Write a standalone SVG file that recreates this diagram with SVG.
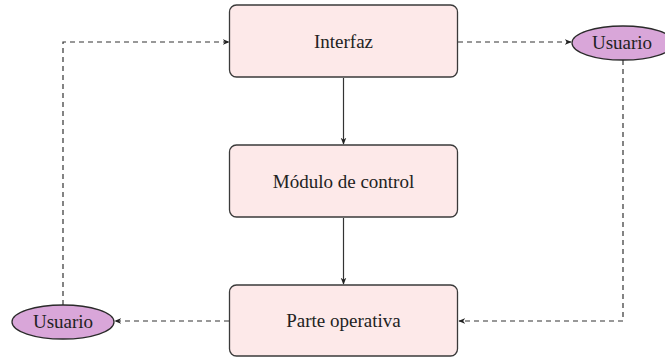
<svg xmlns="http://www.w3.org/2000/svg" width="665" height="358" viewBox="0 0 665 358">
<style>
.box{fill:#fde9e9;stroke:#3a3a3a;stroke-width:1.3}
.ell{fill:#d9a6d9;stroke:#2a2a2a;stroke-width:1.3}
.t{font-family:"Liberation Serif","Times New Roman",serif;font-size:19px;fill:#222;text-anchor:middle}
.solid{fill:none;stroke:#333;stroke-width:1.2}
.dash{fill:none;stroke:#333;stroke-width:1.2;stroke-dasharray:5 4}
</style>
<defs>
<marker id="ah" viewBox="0 0 10 10" refX="9" refY="5" markerWidth="7" markerHeight="7" markerUnits="userSpaceOnUse" orient="auto">
<path d="M0,1 L10,5 L0,9 L3,5 Z" fill="#222"/>
</marker>
</defs>
<g id="connectors">
<path class="solid" d="M343.5,78 V144" marker-end="url(#ah)"/>
<path class="solid" d="M343.5,218 V284" marker-end="url(#ah)"/>
<path class="dash" d="M458,42 H571" marker-end="url(#ah)"/>
<path class="dash" d="M623,60 V321 H459" marker-end="url(#ah)"/>
<path class="dash" d="M229,321 H115" marker-end="url(#ah)"/>
<path class="dash" d="M63,305 V42 H229" marker-end="url(#ah)"/>
</g>
<g id="interfaz">
<rect class="box" x="229.5" y="5" width="228" height="72" rx="7"/>
<text class="t" x="343.5" y="48">Interfaz</text>
</g>
<g id="modulo">
<rect class="box" x="229.5" y="145" width="228" height="72" rx="7"/>
<text class="t" x="343.5" y="188">Módulo de control</text>
</g>
<g id="parte">
<rect class="box" x="229.5" y="285" width="228" height="71" rx="7"/>
<text class="t" x="343.5" y="327">Parte operativa</text>
</g>
<g id="usuario-right">
<ellipse class="ell" cx="623" cy="43" rx="51" ry="17"/>
<text class="t" x="622" y="49">Usuario</text>
</g>
<g id="usuario-left">
<ellipse class="ell" cx="63" cy="322" rx="51" ry="17"/>
<text class="t" x="63" y="328">Usuario</text>
</g>
</svg>
